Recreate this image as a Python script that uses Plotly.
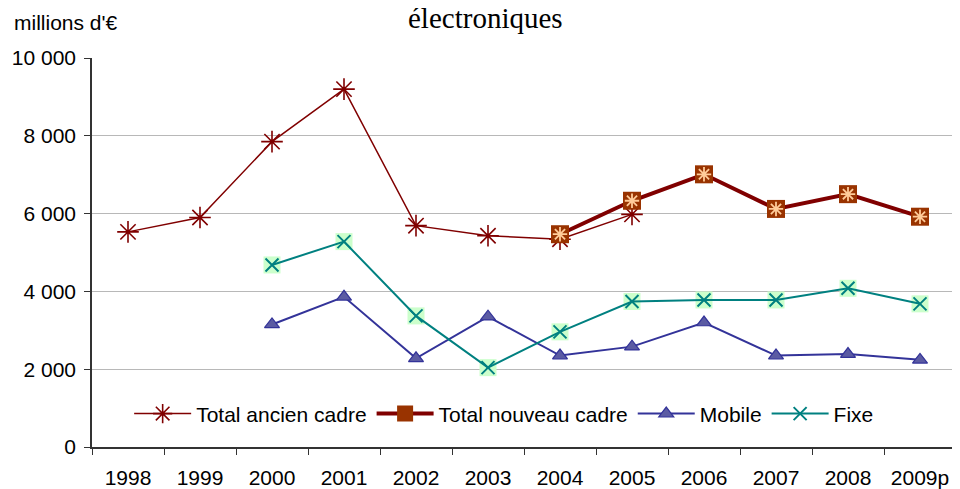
import plotly.graph_objects as go

# Categories and series values (millions d'euros)
years = ['1998', '1999', '2000', '2001', '2002', '2003', '2004', '2005', '2006', '2007', '2008', '2009p']
total_ancien = [5530, 5900, 7850, 9200, 5690, 5430, 5340, 5980, None, None, None, None]
total_nouveau = [None, None, None, None, None, None, 5470, 6330, 7010, 6120, 6500, 5920]
mobile = [None, None, 3150, 3860, 2280, 3350, 2350, 2580, 3200, 2350, 2390, 2240]
fixe = [None, None, 4680, 5280, 3370, 2040, 2960, 3740, 3780, 3780, 4080, 3680]
y_ticks = [0, 2000, 4000, 6000, 8000, 10000]

FONT = 'Liberation Sans, Arial, sans-serif'


def build_figure():
    fig = go.Figure()

    # Total ancien cadre: thin dark red line with asterisks
    fig.add_trace(go.Scatter(
        x=years, y=total_ancien, name='Total ancien cadre',
        mode='lines+markers', legendrank=1,
        line=dict(color='#800000', width=1.5),
        marker=dict(symbol='asterisk-open', size=18, color='#800000',
                    line=dict(color='#800000', width=1.6)),
    ))

    # Total nouveau cadre: thick line, brown squares with light asterisk
    fig.add_trace(go.Scatter(
        x=years, y=total_nouveau, name='Total nouveau cadre',
        mode='lines+markers', legendrank=2,
        line=dict(color='#800000', width=4),
        marker=dict(symbol='square', size=18, color='#993300', line=dict(width=0)),
    ))
    fig.add_trace(go.Scatter(
        x=years, y=total_nouveau, mode='markers', showlegend=False,
        marker=dict(symbol='asterisk-open', size=12, color='#FFCC99',
                    line=dict(color='#FFCC99', width=1.8)),
    ))

    # Mobile: navy line with triangles
    fig.add_trace(go.Scatter(
        x=years, y=mobile, name='Mobile',
        mode='lines+markers', legendrank=3,
        line=dict(color='#333399', width=2),
        marker=dict(symbol='triangle-up', size=13, color='#5B5BA3', line=dict(color='#333399', width=1.2)),
    ))

    # Fixe: teal line, light green squares with a teal cross
    fig.add_trace(go.Scatter(
        x=years, y=fixe, mode='markers', showlegend=False,
        marker=dict(symbol='square', size=17, color='#CCFFCC', line=dict(width=0)),
    ))
    fig.add_trace(go.Scatter(
        x=years, y=fixe, name='Fixe',
        mode='lines+markers', legendrank=4,
        line=dict(color='#008080', width=2),
        marker=dict(symbol='x-thin-open', size=13, color='#008080',
                    line=dict(color='#008080', width=2)),
    ))

    # page body adds 8px on the left and top, so the figure is 8px smaller
    fig.update_layout(
        width=952, height=481,
        margin=dict(l=84, r=4, t=50, b=42),
        paper_bgcolor='white', plot_bgcolor='white',
        font=dict(family=FONT, size=21, color='black'),
        separators=', ',
        showlegend=True,
        legend=dict(
            orientation='h', x=0.043, y=0.085, xanchor='left', yanchor='middle',
            bgcolor='rgba(255,255,255,0)', font=dict(size=21, family=FONT),
            itemwidth=57, tracegroupgap=0,
        ),
        annotations=[
            dict(text='électroniques', xref='paper', yref='paper', x=0.455, y=1.104,
                 xanchor='center', yanchor='middle', showarrow=False,
                 font=dict(family='Liberation Serif, Times New Roman, serif', size=29)),
            dict(text="millions d'€", xref='paper', yref='paper', x=-0.0926, y=1.0925,
                 xanchor='left', yanchor='middle', showarrow=False,
                 font=dict(family=FONT, size=21)),
        ],
    )

    fig.update_xaxes(
        type='category', range=[-0.5, 11.5], automargin=False,
        showline=True, linecolor='#333333', linewidth=1.5,
        ticks='outside', tickson='boundaries', ticklen=6, tickcolor='#333333', tickwidth=1.2,
        showgrid=False, tickfont=dict(size=21), ticklabelstandoff=11,
    )
    fig.update_yaxes(
        range=[0, 10000], tickvals=y_ticks, tickformat=',d', automargin=False,
        showline=True, linecolor='#333333', linewidth=1.5,
        ticks='outside', ticklen=6, tickcolor='#333333', tickwidth=1.2,
        showgrid=True, gridcolor='#B8B8B8', gridwidth=1.3,
        zeroline=False, tickfont=dict(size=21), ticklabelstandoff=4,
    )
    return fig


def main():
    fig = build_figure()
    fig.write_html('out.html')


if __name__ == '__main__':
    main()
